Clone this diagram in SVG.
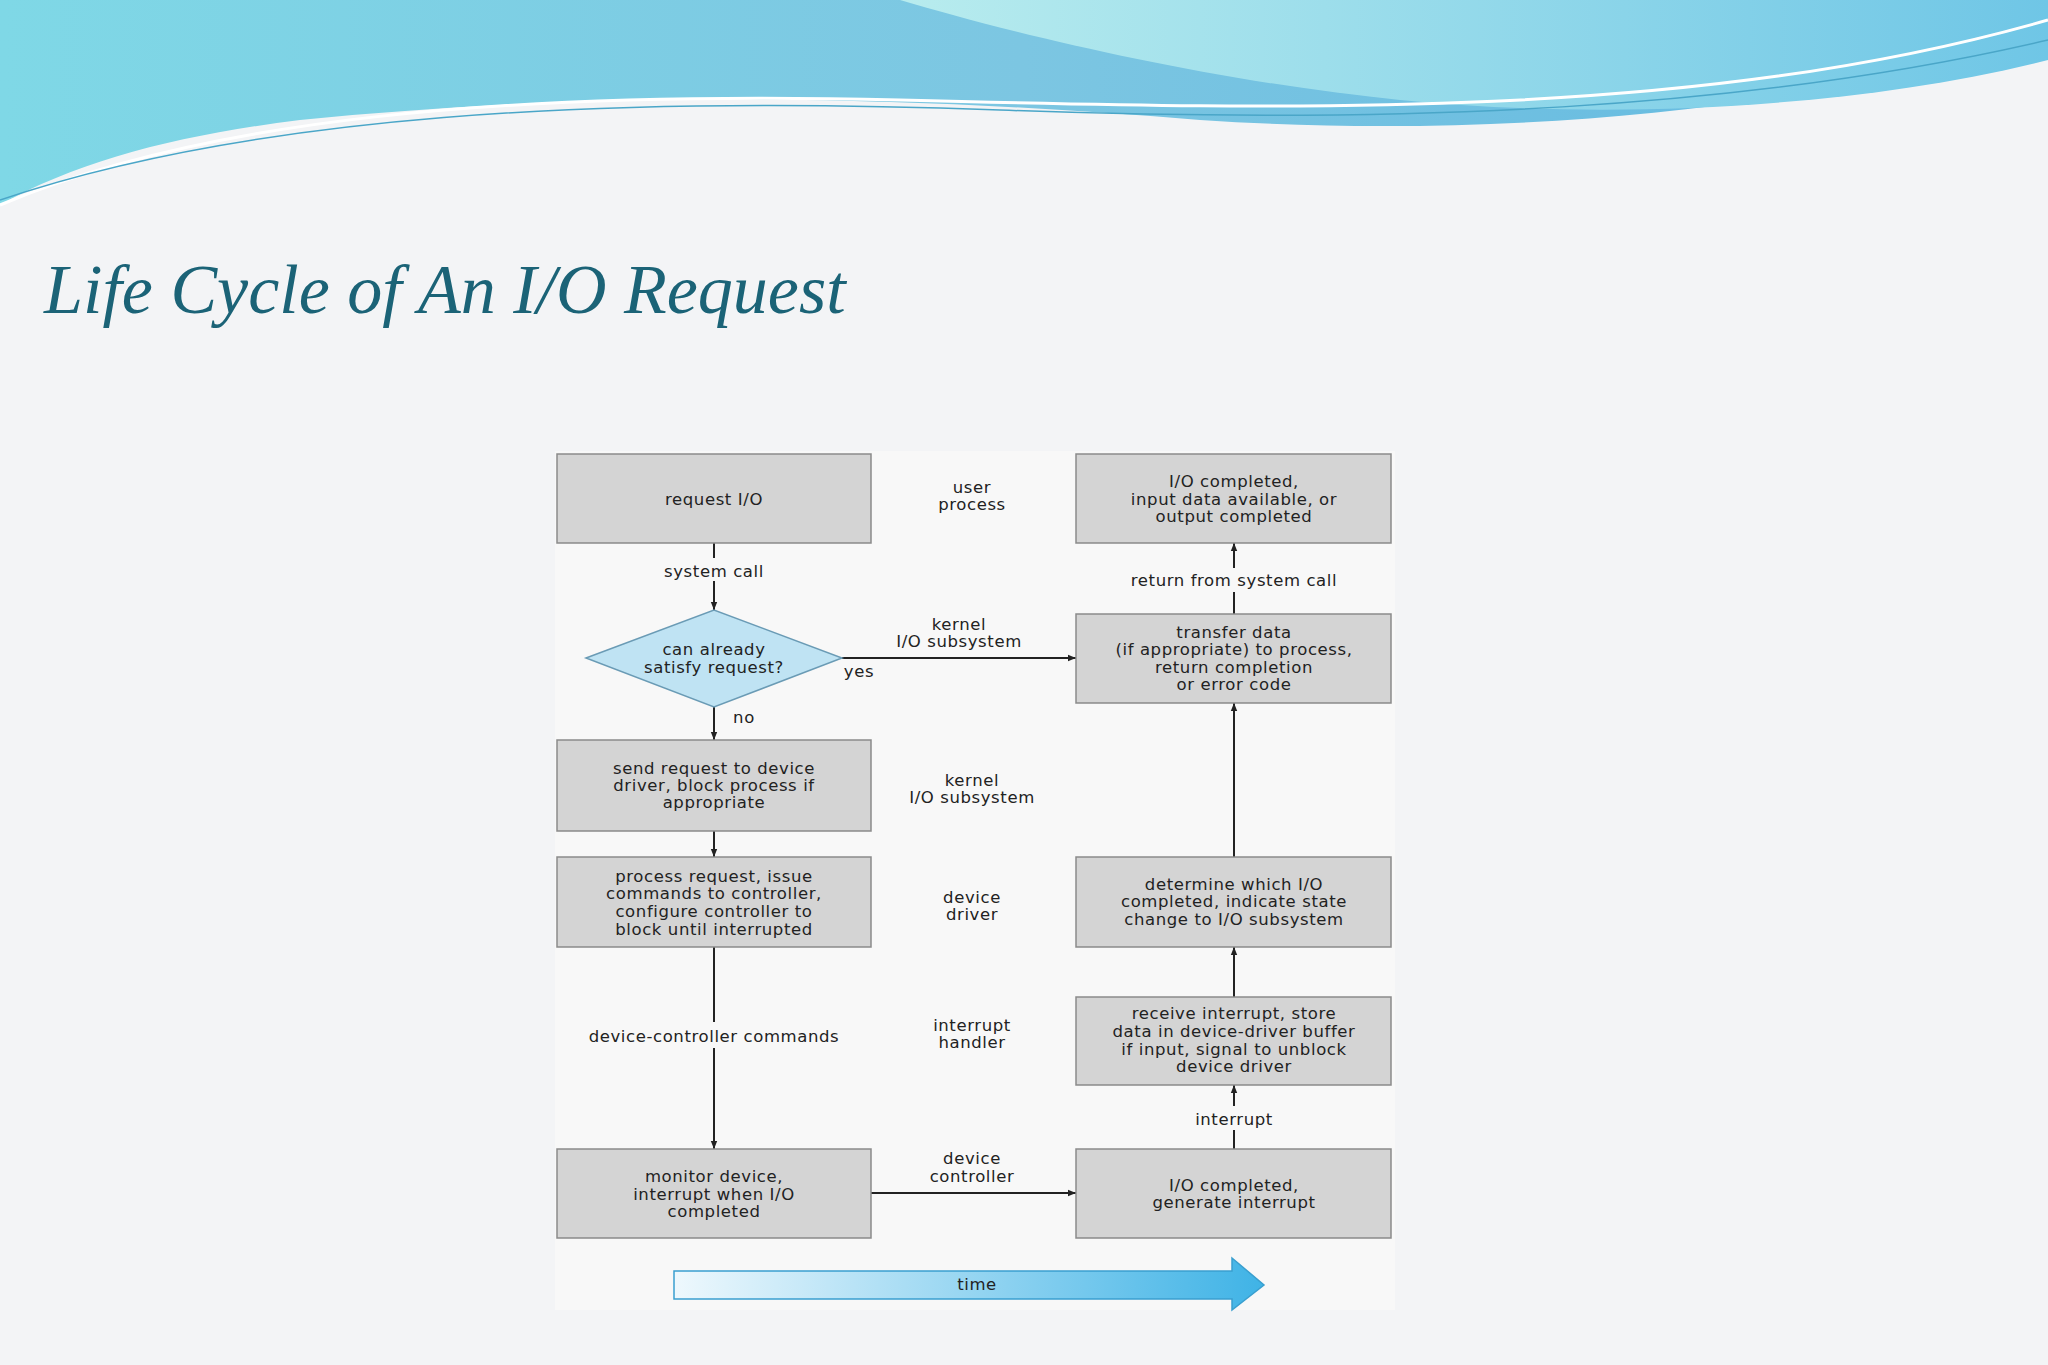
<svg xmlns="http://www.w3.org/2000/svg" width="2048" height="1365" viewBox="0 0 2048 1365">
<defs>
<linearGradient id="wave" x1="0" y1="0" x2="1" y2="0">
<stop offset="0" stop-color="#7fd8e6"/><stop offset="0.5" stop-color="#7cc6e2"/><stop offset="1" stop-color="#5fb8e0"/>
</linearGradient>
<linearGradient id="wave2" x1="0" y1="0" x2="1" y2="0">
<stop offset="0" stop-color="#b8ecee"/><stop offset="1" stop-color="#6fc6e6"/>
</linearGradient>
<linearGradient id="timeg" x1="0" y1="0" x2="1" y2="0">
<stop offset="0" stop-color="#eef8fd"/><stop offset="1" stop-color="#3fb3e6"/>
</linearGradient>
<marker id="ah" viewBox="0 0 10 10" refX="10" refY="5" markerWidth="8" markerHeight="8" orient="auto" markerUnits="userSpaceOnUse">
<path d="M0,1 L10,5 L0,9 Z" fill="#222"/>
</marker>
<style>
.box{fill:#d4d4d4;stroke:#8a8a8a;stroke-width:1.5}
.t{font-family:"DejaVu Sans",Verdana,sans-serif;font-size:16.5px;letter-spacing:0.6px;fill:#222;text-anchor:middle}
.c{stroke:#222;stroke-width:2;fill:none}
</style>
</defs>
<rect width="2048" height="1365" fill="#f3f4f6"/>
<path d="M0,0 H2048 V40 C1800,110 1500,140 1200,120 C900,95 600,90 300,120 C180,135 80,160 0,205 Z" fill="url(#wave)"/>
<path d="M900,0 H2048 V60 C1850,110 1600,120 1400,100 C1200,80 1000,30 900,0 Z" fill="url(#wave2)"/>
<path d="M0,205 C200,120 500,90 900,100 C1300,110 1700,120 2048,20" fill="none" stroke="#ffffff" stroke-width="3"/>
<path d="M0,200 C250,115 600,95 1000,110 C1400,125 1750,110 2048,40" fill="none" stroke="#4aa6c8" stroke-width="1.5"/>
<text x="44" y="313" font-family="Liberation Serif,serif" font-style="italic" font-size="70" fill="#1b6377">Life Cycle of An I/O Request</text>
<rect x="555" y="451" width="840" height="859" fill="#f8f8f8"/>
<g id="connectors">
<line class="c" x1="714" y1="543" x2="714" y2="558"/><line class="c" x1="714" y1="581" x2="714" y2="610" marker-end="url(#ah)"/>
<line class="c" x1="842" y1="658" x2="1076" y2="658" marker-end="url(#ah)"/>
<line class="c" x1="714" y1="707" x2="714" y2="740" marker-end="url(#ah)"/>
<line class="c" x1="714" y1="831" x2="714" y2="857" marker-end="url(#ah)"/>
<line class="c" x1="714" y1="947" x2="714" y2="1022"/><line class="c" x1="714" y1="1048" x2="714" y2="1149" marker-end="url(#ah)"/>
<line class="c" x1="871" y1="1193" x2="1076" y2="1193" marker-end="url(#ah)"/>
<line class="c" x1="1234" y1="1149" x2="1234" y2="1130"/><line class="c" x1="1234" y1="1106" x2="1234" y2="1085" marker-end="url(#ah)"/>
<line class="c" x1="1234" y1="997" x2="1234" y2="947" marker-end="url(#ah)"/>
<line class="c" x1="1234" y1="857" x2="1234" y2="703" marker-end="url(#ah)"/>
<line class="c" x1="1234" y1="614" x2="1234" y2="592"/><line class="c" x1="1234" y1="568" x2="1234" y2="543" marker-end="url(#ah)"/>
</g>
<g id="request"><rect class="box" x="557" y="454" width="314" height="89"/><text class="t" x="714" y="505">request I/O</text></g>
<g id="completed"><rect class="box" x="1076" y="454" width="315" height="89"/><text class="t" x="1234" y="487">I/O completed,</text><text class="t" x="1234" y="505">input data available, or</text><text class="t" x="1234" y="522">output completed</text></g>
<g id="diamond"><polygon points="586,658 714,610 842,658 714,707" fill="#bfe3f3" stroke="#6a9bb5" stroke-width="1.5"/><text class="t" x="714" y="655">can already</text><text class="t" x="714" y="673">satisfy request?</text></g>
<g id="transfer"><rect class="box" x="1076" y="614" width="315" height="89"/><text class="t" x="1234" y="638">transfer data</text><text class="t" x="1234" y="655">(if appropriate) to process,</text><text class="t" x="1234" y="673">return completion</text><text class="t" x="1234" y="690">or error code</text></g>
<g id="send"><rect class="box" x="557" y="740" width="314" height="91"/><text class="t" x="714" y="774">send request to device</text><text class="t" x="714" y="791">driver, block process if</text><text class="t" x="714" y="808">appropriate</text></g>
<g id="process"><rect class="box" x="557" y="857" width="314" height="90"/><text class="t" x="714" y="882">process request, issue</text><text class="t" x="714" y="899">commands to controller,</text><text class="t" x="714" y="917">configure controller to</text><text class="t" x="714" y="935">block until interrupted</text></g>
<g id="determine"><rect class="box" x="1076" y="857" width="315" height="90"/><text class="t" x="1234" y="890">determine which I/O</text><text class="t" x="1234" y="907">completed, indicate state</text><text class="t" x="1234" y="925">change to I/O subsystem</text></g>
<g id="receive"><rect class="box" x="1076" y="997" width="315" height="88"/><text class="t" x="1234" y="1019">receive interrupt, store</text><text class="t" x="1234" y="1037">data in device-driver buffer</text><text class="t" x="1234" y="1055">if input, signal to unblock</text><text class="t" x="1234" y="1072">device driver</text></g>
<g id="monitor"><rect class="box" x="557" y="1149" width="314" height="89"/><text class="t" x="714" y="1182">monitor device,</text><text class="t" x="714" y="1200">interrupt when I/O</text><text class="t" x="714" y="1217">completed</text></g>
<g id="generate"><rect class="box" x="1076" y="1149" width="315" height="89"/><text class="t" x="1234" y="1191">I/O completed,</text><text class="t" x="1234" y="1208">generate interrupt</text></g>
<g id="labels">
<text class="t" x="972" y="493">user</text><text class="t" x="972" y="510">process</text>
<text class="t" x="714" y="577">system call</text>
<text class="t" x="1234" y="586">return from system call</text>
<text class="t" x="959" y="630">kernel</text><text class="t" x="959" y="647">I/O subsystem</text>
<text class="t" x="859" y="677">yes</text>
<text class="t" x="744" y="723">no</text>
<text class="t" x="972" y="786">kernel</text><text class="t" x="972" y="803">I/O subsystem</text>
<text class="t" x="972" y="903">device</text><text class="t" x="972" y="920">driver</text>
<text class="t" x="714" y="1042">device-controller commands</text>
<text class="t" x="972" y="1031">interrupt</text><text class="t" x="972" y="1048">handler</text>
<text class="t" x="972" y="1164">device</text><text class="t" x="972" y="1182">controller</text>
<text class="t" x="1234" y="1125">interrupt</text>
</g>
<g id="time"><polygon points="674,1271 1232,1271 1232,1258 1264,1285 1232,1310 1232,1299 674,1299" fill="url(#timeg)" stroke="#3a9fcf" stroke-width="1.5"/><text class="t" x="977" y="1290">time</text></g>
</svg>
